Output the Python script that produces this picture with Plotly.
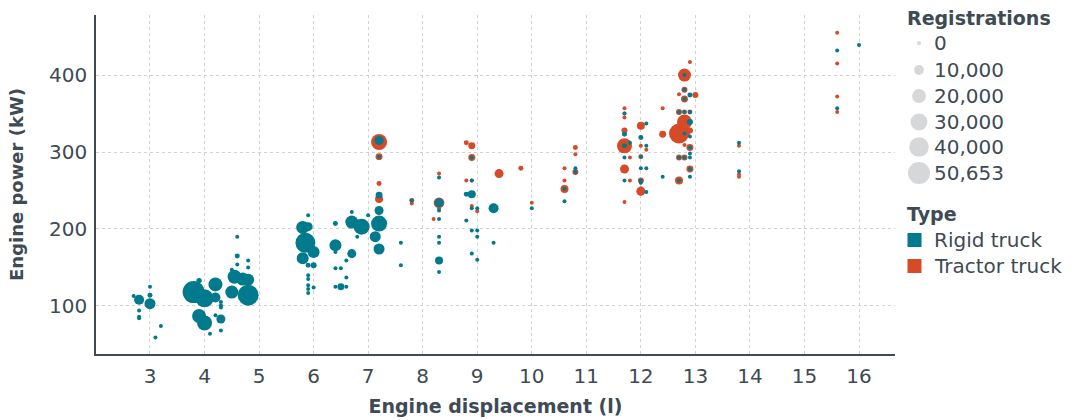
import numpy as np
import plotly.graph_objects as go

# ---------------- data ----------------
rigid_disp = [2.7, 2.8, 3.0, 3.0, 3.0, 2.8, 2.8, 2.8, 3.2, 3.1,
              3.8, 4.0, 3.9, 4.2, 4.2, 4.3, 4.3, 4.3, 3.9, 4.0, 4.3, 4.1, 4.3, 4.2,
              4.6, 4.6, 4.8, 4.8, 4.5, 4.6, 4.55, 4.7, 4.8, 4.5, 4.8,
              5.8, 5.9, 5.85, 6.0, 5.8, 5.9, 6.0, 5.9, 5.9, 5.9, 5.9, 5.9, 5.9, 6.0,
              6.4, 6.4, 6.4, 6.4, 6.5, 6.5, 6.4, 6.6, 6.6, 6.6, 6.7, 6.7, 6.7, 6.88, 6.8, 7.0,
              7.2, 7.2, 7.2, 7.2, 7.2, 7.13, 7.2, 7.8, 7.6, 7.6,
              8.3, 8.3, 8.3, 8.3, 8.3, 8.3, 8.3, 8.3,
              8.9, 8.9, 8.8, 8.9, 8.9, 9.0, 8.8, 8.9, 9.0, 9.0, 8.9, 9.0,
              9.3, 9.3, 10.0, 10.6, 10.6, 10.8, 10.8,
              11.7, 11.7, 11.7, 11.8, 11.7, 11.7,
              12.1, 12.0, 12.1, 12.0, 12.0, 12.1, 12.0, 12.0, 12.1, 12.4,
              12.8, 12.8, 12.9, 12.8, 12.7, 12.8, 12.9, 12.9, 12.8, 12.9, 12.9, 12.9,
              12.7, 12.8, 12.9, 12.9, 12.9, 12.7,
              13.8, 13.8, 15.6, 15.6, 16.0]
rigid_power = [113, 108, 114, 125, 103, 94, 86, 84, 74, 59,
               118, 110, 133, 128, 111, 105, 101, 98, 87, 78, 83, 64, 68, 88,
               190, 165, 159, 150, 147, 154, 138, 135, 134, 118, 114,
               202, 203, 182, 170, 162, 153, 153, 218, 140, 135, 127, 122, 117, 124,
               207, 179, 170, 149, 149, 125, 125, 125, 137, 159, 168, 222, 209, 203, 190, 218,
               315, 294, 244, 224, 207, 190, 174, 237, 182, 153,
               267, 234, 224, 213, 190, 182, 159, 144,
               293, 263, 245, 245, 227, 227, 211, 198, 198, 190, 168, 160,
               227, 182, 227, 252, 236, 279, 274,
               350, 323, 308, 312, 293, 263,
               337, 319, 308, 294, 279, 279, 263, 260, 248, 268,
               400, 381, 374, 369, 352, 352, 352, 339, 324, 320, 306, 298,
               293, 293, 293, 278, 268, 263,
               312, 275, 432, 357, 439]
rigid_regs = [150, 10500, 2600, 200, 12700, 300, 600, 300, 200, 200,
              50653, 33900, 3000, 20500, 10500, 400, 300, 300, 20500, 23500, 8500, 300, 300, 300,
              300, 2600, 300, 400, 300, 300, 20500, 17700, 15000, 17700, 46000,
              17700, 8500, 41800, 15000, 15000, 2600, 3800, 300, 300, 300, 300, 300, 300, 300,
              2600, 15000, 300, 300, 300, 5100, 300, 300, 300, 300, 8500, 600, 17700, 26800, 300, 300,
              8500, 600, 5100, 8500, 26800, 12700, 12700, 300, 300, 300,
              300, 8500, 300, 300, 300, 300, 6700, 300,
              600, 300, 2600, 6700, 300, 300, 300, 300, 300, 300, 300, 300,
              10500, 1600, 300, 600, 300, 300, 600,
              400, 2600, 2600, 300, 300, 300,
              300, 2600, 300, 600, 300, 300, 600, 300, 300, 300,
              1000, 600, 2600, 600, 600, 600, 600, 3800, 300, 300, 600, 300,
              600, 600, 300, 600, 300, 600,
              300, 300, 300, 300, 300]

tractor_disp = [7.2, 7.2, 7.2, 7.2, 7.8, 7.8,
                8.3, 8.3, 8.3, 8.2,
                8.8, 8.9, 8.9, 8.8, 8.9, 8.9, 9.0,
                9.4, 9.8, 10.0,
                10.6, 10.6, 10.6, 10.8, 10.8, 10.8,
                11.7, 11.7, 11.7, 11.7, 11.7, 11.8, 11.7, 11.8, 11.7,
                12.0, 12.0, 12.1, 12.0, 12.0, 12.0, 12.0,
                12.4, 12.4,
                12.9, 12.8, 12.7, 12.8, 13.0, 12.8, 12.7, 12.8, 12.9, 12.8, 12.7, 12.8, 12.9,
                12.8, 12.9, 12.7, 12.8, 12.9, 12.7,
                13.8, 13.8, 13.8, 15.6, 15.6, 15.6, 15.6]
tractor_power = [313, 294, 259, 239, 237, 233,
                 272, 234, 227, 213,
                 312, 308, 293, 263, 263, 230, 223,
                 272, 279, 234,
                 279, 263, 252, 306, 297, 274,
                 357, 350, 345, 328, 308, 293, 278, 263, 235,
                 334, 308, 303, 294, 263, 253, 249,
                 357, 323,
                 417, 400, 375, 381, 374, 369, 352, 352, 352, 339, 324, 326, 328,
                 309, 306, 293, 293, 278, 263,
                 308, 271, 268, 455, 415, 372, 352]
tractor_regs = [26800, 5100, 2600, 6700, 2600, 400,
                300, 12000, 300, 300,
                2600, 5100, 5100, 400, 400, 400, 400,
                8500, 2600, 400,
                300, 400, 6700, 2600, 300, 3800,
                300, 600, 300, 3800, 23500, 300, 8500, 300, 300,
                6700, 300, 300, 2600, 3800, 1600, 8500,
                1600, 5100,
                300, 17700, 400, 3800, 3800, 5100, 3800, 2600, 2600, 23500, 41800, 15000, 3800,
                1600, 5100, 3800, 3800, 5100, 6700,
                300, 300, 300, 300, 300, 300, 300]

x_ticks = list(range(3, 17))
y_ticks = [100, 200, 300, 400]
legend_values = [0, 10000, 20000, 30000, 40000, 50653]
type_names = ["Rigid truck", "Tractor truck"]

# ---------------- style ----------------
TEAL = "#007A8C"
RED = "#D64A28"
GRAY = "#D6D7D9"
TEXT = "#3E4A54"
FONT = "DejaVu Sans"
type_colors = [TEAL, RED]

max_d = 22
sizeref = 2 * max(legend_values) / max_d ** 2

fig = go.Figure()
fig.add_trace(go.Scatter(
    x=tractor_disp, y=tractor_power, mode="markers", name="Tractor truck",
    marker=dict(size=tractor_regs, sizemode="area", sizeref=sizeref, sizemin=2,
                color=RED, opacity=1, line=dict(width=0)),
    showlegend=False))
fig.add_trace(go.Scatter(
    x=rigid_disp, y=rigid_power, mode="markers", name="Rigid truck",
    marker=dict(size=rigid_regs, sizemode="area", sizeref=sizeref, sizemin=2,
                color=TEAL, opacity=1, line=dict(width=0)),
    showlegend=False))

# ---------------- legend drawn on a hidden pixel-like axis ----------------
leg_x_marker = 919
leg_x_text = 932
size_rows = [43, 70, 96, 122, 147, 173]
type_rows = [240, 266]

fig.add_trace(go.Scatter(
    x=[leg_x_marker] * len(legend_values), y=size_rows, xaxis="x2", yaxis="y2",
    mode="markers", showlegend=False, hoverinfo="skip",
    marker=dict(size=np.maximum(legend_values, 1), sizemode="area", sizeref=sizeref,
                sizemin=2, color=GRAY, opacity=1, line=dict(width=0))))
fig.add_trace(go.Scatter(
    x=[914.5] * len(type_names), y=type_rows, xaxis="x2", yaxis="y2",
    mode="markers", showlegend=False, hoverinfo="skip",
    marker=dict(symbol="square", size=14, color=type_colors, opacity=1, line=dict(width=0))))

annotations = []
annotations.append(dict(x=905, y=18, xref="x2", yref="y2", text="Registrations",
                        showarrow=False, xanchor="left", yanchor="middle",
                        font=dict(family=FONT, size=19, color=TEXT, weight="bold")))
for v, yy in zip(legend_values, size_rows):
    annotations.append(dict(x=leg_x_text, y=yy, xref="x2", yref="y2", text=f"{v:,}",
                            showarrow=False, xanchor="left", yanchor="middle",
                            font=dict(family=FONT, size=20, color=TEXT)))
annotations.append(dict(x=905, y=214, xref="x2", yref="y2", text="Type",
                        showarrow=False, xanchor="left", yanchor="middle",
                        font=dict(family=FONT, size=19, color=TEXT, weight="bold")))
for nm, yy in zip(type_names, type_rows):
    annotations.append(dict(x=leg_x_text, y=yy, xref="x2", yref="y2", text=nm,
                            showarrow=False, xanchor="left", yanchor="middle",
                            font=dict(family=FONT, size=20, color=TEXT)))

W, H = 1074, 420
ml, mt, mb = 96, 15, 66
plot_right = 895
main_frac = (plot_right - ml) / (W - ml)

fig.update_layout(
    width=W, height=H,
    margin=dict(l=ml, r=0, t=mt, b=mb, autoexpand=False),
    paper_bgcolor="white", plot_bgcolor="white",
    font=dict(family=FONT, color=TEXT),
    annotations=annotations,
    xaxis=dict(domain=[0, main_frac], range=[2.01, 16.66], tickvals=x_ticks,
               showgrid=True, gridcolor="#D2D2D2", griddash="dot", gridwidth=1,
               zeroline=False, showline=True, linecolor=TEXT, linewidth=1.5,
               ticks="", ticklabelstandoff=3,
               tickfont=dict(family=FONT, size=20, color=TEXT),
               title=dict(text="Engine displacement (l)", standoff=13,
                          font=dict(family=FONT, size=19, color=TEXT, weight="bold"))),
    yaxis=dict(range=[37.6, 478], tickvals=y_ticks,
               showgrid=True, gridcolor="#D2D2D2", griddash="dot", gridwidth=1,
               zeroline=False, showline=True, linecolor=TEXT, linewidth=1.5,
               ticks="", ticklabelstandoff=3,
               tickfont=dict(family=FONT, size=20, color=TEXT),
               title=dict(text="Engine power (kW)", standoff=21,
                          font=dict(family=FONT, size=18, color=TEXT, weight="bold"))),
    xaxis2=dict(domain=[main_frac, 1], range=[plot_right, W], visible=False,
                anchor="y2", fixedrange=True),
    yaxis2=dict(domain=[0, 1], range=[H - mb, mt], visible=False,
                anchor="x2", fixedrange=True),
)

fig.write_html("out.html", config={"displayModeBar": False},
               post_script="document.body.style.margin='0';")
